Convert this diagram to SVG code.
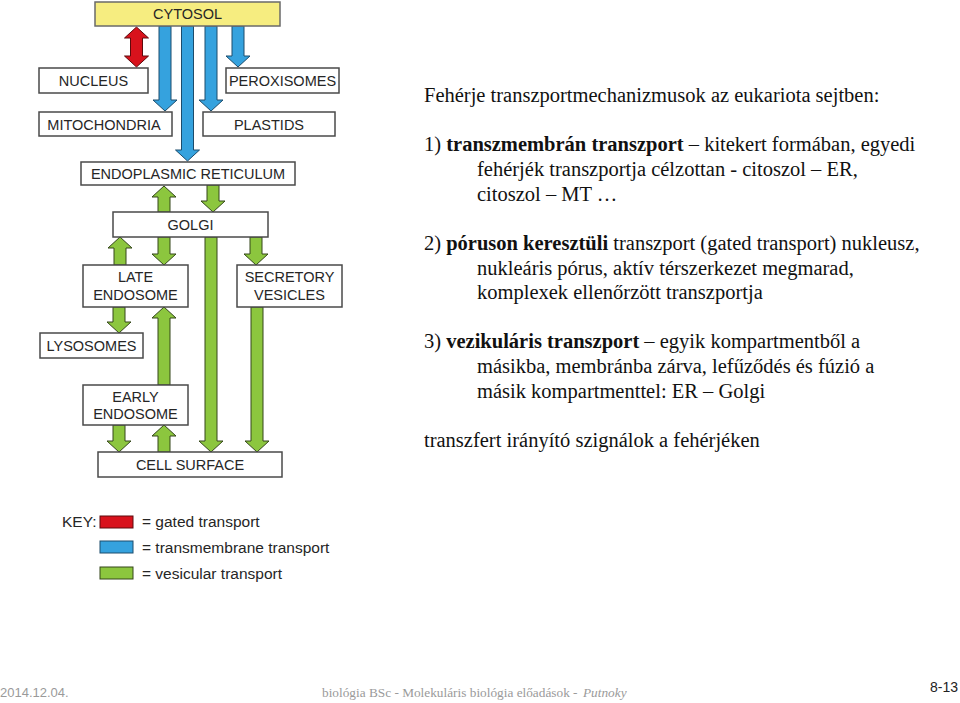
<svg xmlns="http://www.w3.org/2000/svg" width="960" height="703" viewBox="0 0 960 703">
<style>
.box{fill:#fff;stroke:#4a4a4a;stroke-width:1.5}
.cyt{fill:#f6ed80;stroke:#6a6a6a;stroke-width:1.5}
.lbl{font-family:"Liberation Sans",Arial,sans-serif;font-size:14.5px;fill:#262626;text-anchor:middle}
.blue{fill:#35a2de;stroke:#1c4c6c;stroke-width:1}
.green{fill:#8cc63e;stroke:#34461a;stroke-width:1}
.red{fill:#d8121c;stroke:#5e0a0c;stroke-width:1}
.key{font-family:"Liberation Sans",Arial,sans-serif;font-size:15.5px;fill:#262626}
.body{font-family:"Liberation Serif","Times New Roman",serif;font-size:20.5px;fill:#111}
.b{font-weight:bold}
.foot{font-family:"Liberation Sans",Arial,sans-serif;font-size:13px;fill:#9a9a9a}
.foots{font-family:"Liberation Serif","Times New Roman",serif;font-size:13.3px;fill:#9a9a9a}
</style>
<rect width="960" height="703" fill="#fff"/>
<g id="connectors">
<polygon class="red" points="136.5,27 148.5,38 142.5,38 142.5,56 148.5,56 136.5,67 124.5,56 130.5,56 130.5,38 124.5,38"/>
<polygon class="blue" points="159,26 171,26 171,100 177,100 165,111 153,100 159,100"/>
<polygon class="blue" points="181.5,26 193.5,26 193.5,150 199.5,150 187.5,161 175.5,150 181.5,150"/>
<polygon class="blue" points="205,26 217,26 217,100 223,100 211,111 199,100 205,100"/>
<polygon class="blue" points="232,26 244,26 244,56 250,56 238,67 226,56 232,56"/>
<polygon class="green" points="158,212 170,212 170,197 176,197 164,186 152,197 158,197"/>
<polygon class="green" points="207,185 219,185 219,201 225,201 213,212 201,201 207,201"/>
<polygon class="green" points="114,265 126,265 126,248 132,248 120,237 108,248 114,248"/>
<polygon class="green" points="158,237 170,237 170,254 176,254 164,265 152,254 158,254"/>
<polygon class="green" points="205,237 217,237 217,441 223,441 211,452 199,441 205,441"/>
<polygon class="green" points="250,237 262,237 262,254 268,254 256,265 244,254 250,254"/>
<polygon class="green" points="113,307 125,307 125,322 131,322 119,333 107,322 113,322"/>
<polygon class="green" points="158,385 170,385 170,318 176,318 164,307 152,318 158,318"/>
<polygon class="green" points="251,307 263,307 263,441 269,441 257,452 245,441 251,441"/>
<polygon class="green" points="113,425 125,425 125,441 131,441 119,452 107,441 113,441"/>
<polygon class="green" points="158,452 170,452 170,436 176,436 164,425 152,436 158,436"/>
</g>
<g id="cytosol"><rect class="cyt" x="95" y="2" width="185" height="24"/><text class="lbl" x="187.5" y="19">CYTOSOL</text></g>
<g id="nucleus"><rect class="box" x="39" y="68" width="109" height="25"/><text class="lbl" x="93.5" y="86">NUCLEUS</text></g>
<g id="peroxisomes"><rect class="box" x="226" y="68" width="113" height="25"/><text class="lbl" x="282.5" y="86">PEROXISOMES</text></g>
<g id="mitochondria"><rect class="box" x="39" y="112" width="133" height="24"/><text class="lbl" x="104" y="129.5">MITOCHONDRIA</text></g>
<g id="plastids"><rect class="box" x="203" y="112" width="132" height="24"/><text class="lbl" x="269" y="129.5">PLASTIDS</text></g>
<g id="er"><rect class="box" x="81" y="162" width="214" height="23"/><text class="lbl" x="188" y="179">ENDOPLASMIC RETICULUM</text></g>
<g id="golgi"><rect class="box" x="113" y="212" width="155" height="25"/><text class="lbl" x="190.5" y="230">GOLGI</text></g>
<g id="late-endosome"><rect class="box" x="83" y="265" width="105" height="42"/><text class="lbl" x="135.5" y="282">LATE</text><text class="lbl" x="135.5" y="300">ENDOSOME</text></g>
<g id="secretory-vesicles"><rect class="box" x="237" y="265" width="105" height="42"/><text class="lbl" x="289.5" y="282">SECRETORY</text><text class="lbl" x="289.5" y="300">VESICLES</text></g>
<g id="lysosomes"><rect class="box" x="40" y="333" width="103" height="25"/><text class="lbl" x="91.5" y="351">LYSOSOMES</text></g>
<g id="early-endosome"><rect class="box" x="83" y="385" width="105" height="40"/><text class="lbl" x="135.5" y="402">EARLY</text><text class="lbl" x="135.5" y="419">ENDOSOME</text></g>
<g id="cell-surface"><rect class="box" x="98" y="452" width="184" height="25"/><text class="lbl" x="190" y="470">CELL SURFACE</text></g>
<g id="key">
<text class="key" x="62" y="527">KEY:</text>
<rect class="red" x="100" y="516" width="33" height="12"/>
<text class="key" x="142" y="527">= gated transport</text>
<rect class="blue" x="100" y="541" width="33" height="12"/>
<text class="key" x="142" y="553">= transmembrane transport</text>
<rect class="green" x="100" y="567" width="33" height="12"/>
<text class="key" x="142" y="579">= vesicular transport</text>
</g>
<g id="body-text">
<text class="body" x="424" y="102">Fehérje transzportmechanizmusok az eukariota sejtben:</text>
<text class="body" x="424" y="151">1) <tspan class="b">transzmembrán transzport</tspan> – kitekert formában, egyedi</text>
<text class="body" x="477" y="176">fehérjék transzportja célzottan - citoszol – ER,</text>
<text class="body" x="477" y="200.5">citoszol – MT …</text>
<text class="body" x="424" y="250">2) <tspan class="b">póruson keresztüli</tspan> transzport (gated transport) nukleusz,</text>
<text class="body" x="477" y="274.5">nukleáris pórus, aktív térszerkezet megmarad,</text>
<text class="body" x="477" y="299">komplexek ellenőrzött transzportja</text>
<text class="body" x="424" y="348">3) <tspan class="b">vezikuláris transzport</tspan> – egyik kompartmentből a</text>
<text class="body" x="477" y="373">másikba, membránba zárva, lefűződés és fúzió a</text>
<text class="body" x="477" y="397.5">másik kompartmenttel: ER – Golgi</text>
<text class="body" x="424" y="447">transzfert irányító szignálok a fehérjéken</text>
</g>
<g id="footer">
<text class="foot" x="0" y="697">2014.12.04.</text>
<text class="foots" x="322" y="697">biológia BSc - Molekuláris biológia előadások -</text>
<text class="foots" x="583" y="697" font-style="italic">Putnoky</text>
<text class="foot" x="930" y="692" style="fill:#222;font-size:14px">8-13</text>
</g>
</svg>
